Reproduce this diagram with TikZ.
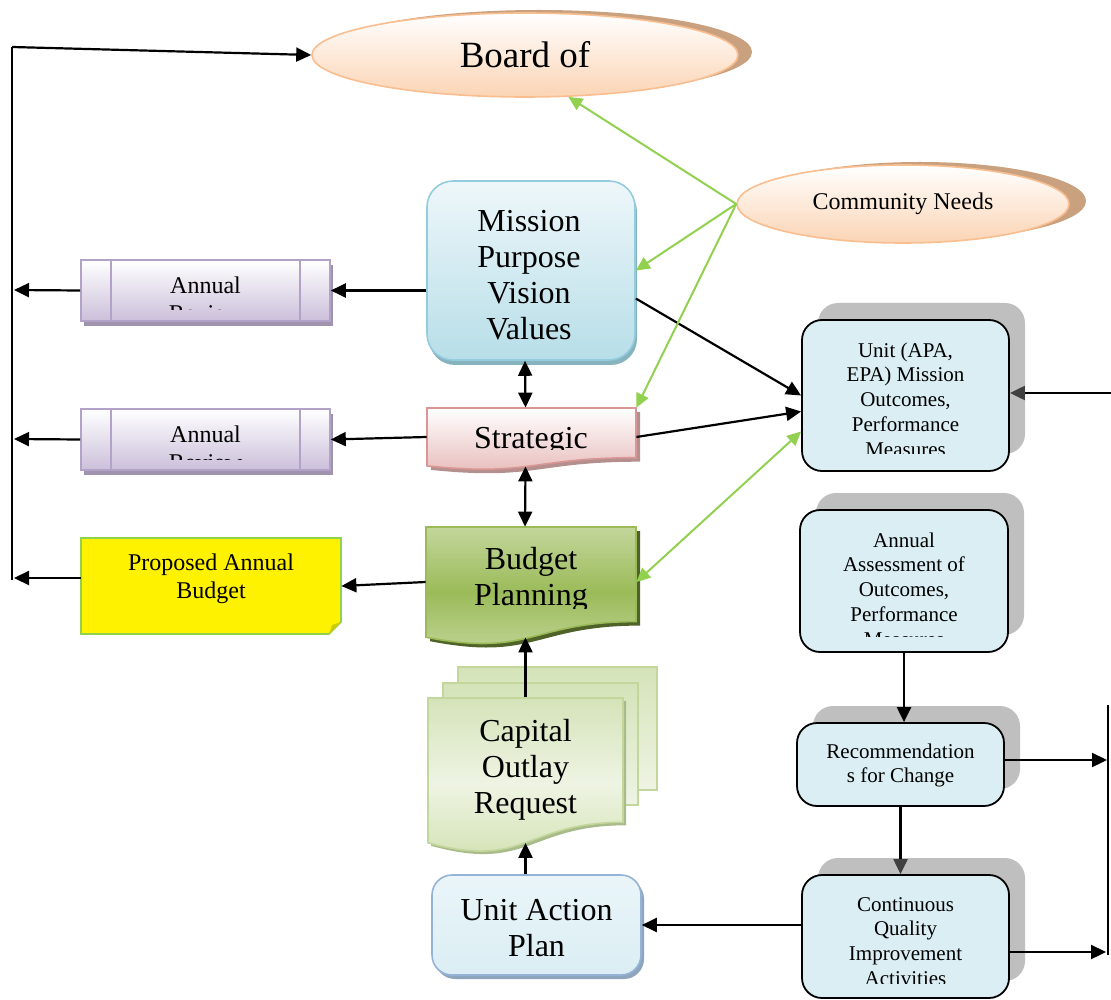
\documentclass[tikz,border=0pt]{standalone}
\usepackage{fontspec}
\setmainfont{Liberation Serif}
\usetikzlibrary{arrows.meta,shapes.geometric,shadows}

\definecolor{peach}{HTML}{FBD4B4}
\definecolor{peachline}{HTML}{F9BE8F}
\definecolor{peachshade}{HTML}{C9A17F}
\definecolor{aquatop}{HTML}{EEF7FA}
\definecolor{aquabot}{HTML}{B7DEE8}
\definecolor{aqualine}{HTML}{93CDDD}
\definecolor{aquashade}{HTML}{87B3BF}
\definecolor{lilac}{HTML}{CBBFDA}
\definecolor{lilacline}{HTML}{B3A2C7}
\definecolor{lilacshade}{HTML}{9F93AD}
\definecolor{pinkbot}{HTML}{E6B9B8}
\definecolor{pinkline}{HTML}{D99694}
\definecolor{pinkshade}{HTML}{B38F8E}
\definecolor{budgettop}{HTML}{C3D69B}
\definecolor{budgetmid}{HTML}{9BBB59}
\definecolor{budgetshade}{HTML}{4F6228}
\definecolor{captop}{HTML}{D5E3B9}
\definecolor{capmid}{HTML}{EEF4E3}
\definecolor{capbot}{HTML}{D0E0AE}
\definecolor{capline}{HTML}{C3D69B}
\definecolor{capshade}{HTML}{A9BA8B}
\definecolor{planfill}{HTML}{DBEEF4}
\definecolor{planline}{HTML}{95B3D7}
\definecolor{planshade}{HTML}{8DA6BE}
\definecolor{unitfill}{HTML}{DAEEF3}
\definecolor{shadowgray}{HTML}{BFBFBF}
\definecolor{grn}{HTML}{92D050}
\definecolor{tipgray}{HTML}{404040}
\definecolor{fold}{HTML}{CCCC00}

\tikzset{
  plain/.style={line width=1.1pt},
  arr/.style={line width=1.1pt,-{Triangle[length=7.5pt,width=7pt]}},
  dblarr/.style={line width=1.1pt,{Triangle[length=7.5pt,width=7pt]}-{Triangle[length=7.5pt,width=7pt]}},
  grayarr/.style={line width=1.1pt,-{Triangle[length=7.5pt,width=7pt,color=tipgray]}},
  grnarr/.style={line width=1pt,draw=grn,-{Triangle[length=7pt,width=6.5pt]}},
  grndbl/.style={line width=1pt,draw=grn,{Triangle[length=7pt,width=6.5pt]}-{Triangle[length=7pt,width=6.5pt]}},
  hugetxt/.style={font=\fontsize{18.5}{21}\selectfont},
  largetxt/.style={font=\fontsize{16}{18}\selectfont,align=center,inner sep=0},
  midtxt/.style={font=\fontsize{12}{14}\selectfont,align=center,inner sep=0},
  smalltxt/.style={font=\fontsize{10.5}{12.4}\selectfont,align=center,inner sep=0},
  oval/.style={ellipse,draw=peachline,line width=0.8pt,top color=white,bottom color=peach,inner sep=0},
  aquabox/.style={rectangle,rounded corners=13pt,draw=aqualine,line width=0.8pt,
    top color=aquatop,bottom color=aquabot,
    drop shadow={shadow xshift=1pt,shadow yshift=-2.5pt,fill=aquashade,opacity=1}},
  reviewbox/.style={rectangle,draw=lilacline,line width=0.8pt,top color=white,bottom color=lilac,
    minimum width=124.5pt,minimum height=30.5pt,
    drop shadow={shadow xshift=1.5pt,shadow yshift=-2.5pt,fill=lilacshade,opacity=1}},
  planbox/.style={rectangle,rounded corners=10pt,draw=planline,line width=0.8pt,
    top color=planfill!60!white,bottom color=planfill,
    drop shadow={shadow xshift=1.5pt,shadow yshift=-2pt,fill=planshade,opacity=1}},
  unitbox/.style={rectangle,rounded corners=10pt,draw=black,line width=0.9pt,fill=unitfill,
    drop shadow={shadow xshift=8pt,shadow yshift=8.5pt,fill=shadowgray,opacity=1}},
  frame/.style={inner sep=0}
}

\begin{document}
\begin{tikzpicture}[x=0.5pt,y=-0.5pt]
  \useasboundingbox (0,0) rectangle (1111,999);

  % ovals at the top
  \node[oval,hugetxt,minimum width=213pt,minimum height=42pt,
    drop shadow={shadow xshift=7pt,shadow yshift=1.5pt,fill=peachshade,opacity=1}] (board) at (525,55) {Board of};
  \node[oval,font=\fontsize{12}{14}\selectfont,minimum width=166pt,minimum height=39pt,
    drop shadow={shadow xshift=8.5pt,shadow yshift=1.5pt,fill=peachshade,opacity=1}] (community) at (903,204) {Community Needs};

  % middle column
  \node[aquabox,minimum width=104pt,minimum height=89.5pt] (mission) at (531,270.5) {};
  \node[largetxt] (missionText) at (529,275) {Mission\\Purpose\\Vision\\Values};

  \fill[pinkshade,shift={(4,4)}] (427,408) -- (636,408) -- (636,457.7)
    .. controls (531.5,457.7) and (531.5,476.7) .. (427,465.9) -- cycle;
  \draw[pinkline,line width=0.8pt,top color=white,bottom color=pinkbot] (427,408) -- (636,408) -- (636,457.7)
    .. controls (531.5,457.7) and (531.5,476.7) .. (427,465.9) -- cycle;
  \node[frame,minimum width=104.5pt,minimum height=29pt] (strat) at (531.5,437) {};
  \begin{scope}
    \clip (427,408) rectangle (636,449);
    \node[largetxt] (stratText) at (531,441) {Strategic};
  \end{scope}

  \fill[budgetshade,shift={(4,4)}] (426,527) -- (636,527) -- (636,621.6)
    .. controls (531,621.6) and (531,657.7) .. (426,637.2) -- cycle;
  \draw[budgetmid,line width=0.8pt,top color=budgettop,bottom color=budgettop,middle color=budgetmid]
    (426,527) -- (636,527) -- (636,621.6)
    .. controls (531,621.6) and (531,657.7) .. (426,637.2) -- cycle;
  \node[frame,minimum width=105pt,minimum height=55pt] (budget) at (531,582) {};
  \begin{scope}
    \clip (426,527) rectangle (636,608);
    \node[largetxt] (budgetText) at (531,580) {Budget\\Planning};
  \end{scope}

  \draw[capline,line width=0.8pt,top color=captop,bottom color=capmid] (458,667) rectangle (657,790);
  \draw[capline,line width=0.8pt,top color=captop,bottom color=capmid] (443,683) rectangle (638,805);
  \fill[capshade,shift={(3,3)}] (428,698) -- (623,698) -- (623,822.3)
    .. controls (525.5,822.3) and (525.5,869.7) .. (428,842.8) -- cycle;
  \draw[capline,line width=0.8pt,top color=captop,bottom color=capbot,middle color=capmid]
    (428,698) -- (623,698) -- (623,822.3)
    .. controls (525.5,822.3) and (525.5,869.7) .. (428,842.8) -- cycle;
  \node[frame,minimum width=97.5pt,minimum height=72.5pt] (capital) at (525.5,770) {};
  \node[largetxt] (capitalText) at (525.5,769.6) {Capital\\Outlay\\Request};

  \node[planbox,minimum width=104.5pt,minimum height=50pt] (plan) at (536.5,925) {};
  \node[largetxt] (planText) at (536.5,928) {Unit Action\\Plan};

  % left column
  \node[reviewbox] (review1) at (205.5,290.5) {};
  \draw[lilacline,line width=0.8pt] ([xshift=15.5pt]review1.north west) -- ([xshift=15.5pt]review1.south west);
  \draw[lilacline,line width=0.8pt] ([xshift=-15.5pt]review1.north east) -- ([xshift=-15.5pt]review1.south east);
  \begin{scope}
    \clip (81,260) rectangle (330,310);
    \node[midtxt] (review1Text) at (205.5,299) {Annual\\Review};
  \end{scope}

  \node[reviewbox] (review2) at (205.5,439.5) {};
  \draw[lilacline,line width=0.8pt] ([xshift=15.5pt]review2.north west) -- ([xshift=15.5pt]review2.south west);
  \draw[lilacline,line width=0.8pt] ([xshift=-15.5pt]review2.north east) -- ([xshift=-15.5pt]review2.south east);
  \begin{scope}
    \clip (81,409) rectangle (330,459);
    \node[midtxt] (review2Text) at (205.5,448) {Annual\\Review};
  \end{scope}

  \draw[grn,line width=0.8pt,fill=yellow] (81,538) -- (341,538) -- (341,622) -- (329,634) -- (81,634) -- cycle;
  \fill[fold] (341,622) -- (332,625) -- (329,634) -- cycle;
  \node[frame,minimum width=130pt,minimum height=48pt] (prop) at (211,586) {};
  \node[midtxt] (propText) at (211,579) {Proposed Annual\\Budget};

  % right column
  \node[unitbox,minimum width=103.5pt,minimum height=75.5pt] (apa) at (905.5,395.5) {};
  \begin{scope}
    \clip (802,320) rectangle (1009,453);
    \node[smalltxt] (apaText) at (905.5,399.5) {Unit (APA,\\EPA) Mission\\Outcomes,\\Performance\\Measures};
  \end{scope}

  \node[unitbox,minimum width=104pt,minimum height=71pt] (assess) at (904,581) {};
  \begin{scope}
    \clip (800,510) rectangle (1008,636);
    \node[smalltxt] (assessText) at (904,589.5) {Annual\\Assessment of\\Outcomes,\\Performance\\Measures};
  \end{scope}

  \node[unitbox,minimum width=103.5pt,minimum height=41.5pt] (recom) at (900.5,764.5) {};
  \node[smalltxt] (recomText) at (900.5,765.5) {Recommendation\\s for Change};

  \node[unitbox,minimum width=103.5pt,minimum height=61.5pt] (cqi) at (905.5,936.5) {};
  \begin{scope}
    \clip (802,875) rectangle (1009,983);
    \node[smalltxt] (cqiText) at (905.5,941.5) {Continuous\\Quality\\Improvement\\Activities};
  \end{scope}

  % free ends of the feedback lines
  \coordinate (ltop) at (12,47);
  \coordinate (lbot) at (12,580);
  \coordinate (lrev1) at (14,290);
  \coordinate (lrev2) at (14,439);
  \coordinate (lprop) at (14,578);
  \coordinate (rtop) at (1108,705);
  \coordinate (rbot) at (1108,955);
  \coordinate (rrec) at (1107,760);
  \coordinate (rcqi) at (1106,952);
  \coordinate (redge) at (1111,393);

  % connectors
  \draw[plain] (lbot) -- (ltop);
  \draw[arr] (ltop) -- (board.west);
  \draw[arr] (review1.west) -- (lrev1);
  \draw[arr] (review2.west) -- (lrev2);
  \draw[arr] (prop.west |- lprop) -- (lprop);
  \draw[arr] (mission.west |- review1.east) -- (review1.east);
  \draw[arr] (strat.west) -- (review2.east);
  \draw[arr] (budget.west) -- (prop.east);
  \draw[dblarr] ([xshift=-3pt]mission.south) -- ([xshift=-3pt]strat.south |- mission.south |- strat.north);
  \draw[dblarr] ([xshift=-3pt]strat.south) -- ([xshift=-3pt]budget.north);
  \draw[arr] (capital.north) -- (capital.north |- budget.south);
  \draw[arr] (capital.south |- plan.north) -- (capital.south);
  \draw[arr] (cqi.west |- plan.east) -- (plan.east);
  \draw[arr] ([yshift=-14pt]mission.east) -- (apa.west);
  \draw[arr] (strat.east) -- ([yshift=-8pt]apa.west);
  \draw[grnarr] (community.west) -- (board.-44);
  \draw[grnarr] (community.west) -- (mission.east);
  \draw[grnarr] (community.west) -- (strat.north east);
  \draw[grndbl] (budget.east) -- ([yshift=-18pt]apa.west);
  \draw[arr] (assess.south) -- (assess.south |- recom.north);
  \draw[grayarr] (recom.south) -- (recom.south |- cqi.north);
  \draw[arr] (recom.east |- rrec) -- (rrec);
  \draw[arr] (cqi.east |- rcqi) -- (rcqi);
  \draw[plain] (rtop) -- (rbot);
  \draw[grayarr] (redge) -- (redge -| apa.east);
\end{tikzpicture}
\end{document}
